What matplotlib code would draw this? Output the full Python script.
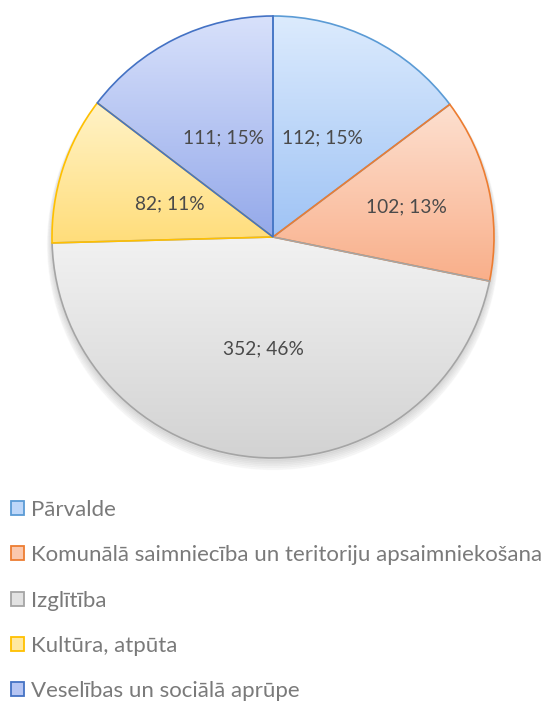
import numpy as np
import matplotlib.pyplot as plt
from matplotlib.patches import Patch
from matplotlib.colors import to_rgb

# data
categories = ['Pārvalde',
              'Komunālā saimniecība un teritoriju apsaimniekošana',
              'Izglītība',
              'Kultūra, atpūta',
              'Veselības un sociālā aprūpe']
values = [112, 102, 352, 82, 111]
percents = [15, 13, 46, 11, 15]

# styling
edge_colors = ['#5B9BD5', '#ED7D31', '#A5A5A5', '#FFC000', '#4472C4']
top_colors = ['#DCEBFD', '#FDE0D0', '#F2F2F2', '#FFF3C8', '#D8E1FB']
bottom_colors = ['#9FC3F5', '#F9AF8A', '#D2D2D2', '#FFDD7A', '#94A9EA']
label_dist = [0.50, 0.62, 0.51, 0.49, 0.50]
label_color = '#4A4A4A'
legend_color = '#7A7A7A'
font = 'Lato'

W, H = 548, 702
fig = plt.figure(figsize=(W / 100, H / 100), dpi=100)
cx, cy, r = 273, 237, 221
ax = fig.add_axes([(cx - r) / W, (H - cy - r) / H, 2 * r / W, 2 * r / H])
ax.axis('off')

# soft shadow under the pie
for k in range(6):
    sh = plt.Circle((0.0, -0.012 - k * 0.004), 1.0 + k * 0.004,
                    color='#000000', alpha=0.025, zorder=0, clip_on=False)
    ax.add_patch(sh)

wedges, _ = ax.pie(values, startangle=90, counterclock=False, radius=1.0,
                   wedgeprops=dict(linewidth=1.2, facecolor='none'))

for i, w in enumerate(wedges):
    w.set_edgecolor(edge_colors[i])
    w.set_zorder(3)
    verts = w.get_path().vertices
    y0, y1 = verts[:, 1].min(), verts[:, 1].max()
    x0, x1 = verts[:, 0].min(), verts[:, 0].max()
    c_top = np.array(to_rgb(top_colors[i]))
    c_bot = np.array(to_rgb(bottom_colors[i]))
    t = np.linspace(0, 1, 256)[:, None]
    grad = (c_top * (1 - t) + c_bot * t)[:, None, :]
    im = ax.imshow(grad, extent=(x0, x1, y0, y1), aspect='auto',
                   origin='upper', zorder=2, interpolation='bilinear')
    im.set_clip_path(w)

    ang = np.deg2rad((w.theta1 + w.theta2) / 2)
    d = label_dist[i]
    ax.text(d * np.cos(ang), d * np.sin(ang), f'{values[i]}; {percents[i]}%',
            ha='center', va='center', fontsize=13.8, color=label_color,
            family=font, zorder=5)

ax.set_xlim(-1, 1)
ax.set_ylim(-1, 1)

mid_colors = [tuple((np.array(to_rgb(a)) + np.array(to_rgb(b))) / 2)
              for a, b in zip(top_colors, bottom_colors)]
handles = [Patch(facecolor=mid_colors[i], edgecolor=edge_colors[i],
                 linewidth=1.3) for i in range(len(categories))]
leg = fig.legend(handles, categories, loc='upper left',
                 bbox_to_anchor=(2 / W, 1 - 491 / H), frameon=False,
                 handlelength=0.58, handleheight=0.58, handletextpad=0.32,
                 labelspacing=1.14, borderaxespad=0,
                 prop=dict(family=font, size=16))
for txt in leg.get_texts():
    txt.set_color(legend_color)

fig.savefig('out.png', dpi=100)
